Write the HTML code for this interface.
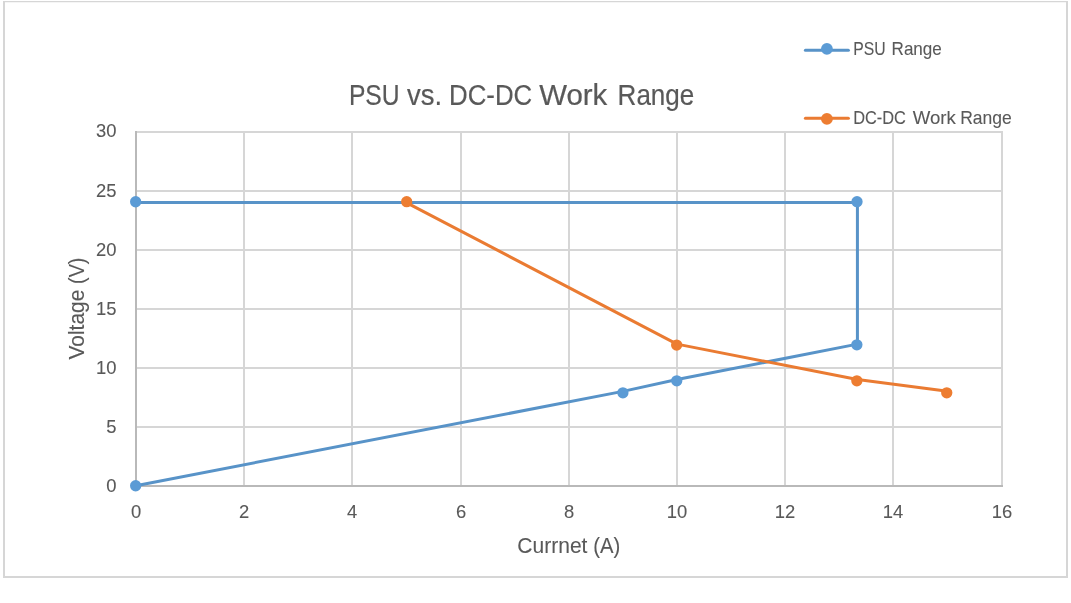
<!DOCTYPE html>
<html>
<head>
<meta charset="utf-8">
<style>
html,body{margin:0;padding:0;background:#fff;}
body{width:1071px;height:603px;overflow:hidden;}
svg{display:block;will-change:transform;}
text{font-family:"Liberation Sans",sans-serif;fill:#595959;stroke:#595959;stroke-width:0.1px;}
.ttl{stroke-width:0.2px;}
</style>
</head>
<body>
<svg width="1071" height="603" viewBox="0 0 1071 603">
<rect x="0" y="0" width="1071" height="603" fill="#fff"/>

<g fill="#d6d6d6">
<rect x="3" y="1" width="2" height="577"/>
<rect x="1066" y="1" width="2" height="577"/>
<rect x="3" y="1" width="1065" height="1.25"/>
<rect x="3" y="576" width="1065" height="2"/>
</g>
<g fill="#d6d6d6">
<rect x="135" y="131" width="868" height="2"/>
<rect x="135" y="190" width="868" height="2"/>
<rect x="135" y="249" width="868" height="2"/>
<rect x="135" y="308" width="868" height="2"/>
<rect x="135" y="367" width="868" height="2"/>
<rect x="135" y="426" width="868" height="2"/>
<rect x="243" y="131" width="2" height="355"/>
<rect x="351" y="131" width="2" height="355"/>
<rect x="460" y="131" width="2" height="355"/>
<rect x="568" y="131" width="2" height="355"/>
<rect x="676" y="131" width="2" height="355"/>
<rect x="784" y="131" width="2" height="355"/>
<rect x="892" y="131" width="2" height="355"/>
<rect x="1001" y="131" width="2" height="355"/>
</g>
<g fill="#b9b9b9">
<rect x="135" y="131" width="2" height="356"/>
<rect x="135" y="485" width="868" height="2"/>
</g>
<text class="ttl" x="348.9" y="105" font-size="28.8" textLength="50.71" lengthAdjust="spacingAndGlyphs">PSU</text>
<text class="ttl" x="406.97" y="105" font-size="28.8" textLength="35.08" lengthAdjust="spacingAndGlyphs">vs.</text>
<text class="ttl" x="449.11" y="105" font-size="28.8" textLength="83.1" lengthAdjust="spacingAndGlyphs">DC-DC</text>
<text class="ttl" x="539.16" y="105" font-size="28.8" textLength="68.16" lengthAdjust="spacingAndGlyphs">Work</text>
<text class="ttl" x="617.59" y="105" font-size="28.8" textLength="76.75" lengthAdjust="spacingAndGlyphs">Range</text>
<text x="517.37" y="553" font-size="21.8" textLength="70.08" lengthAdjust="spacingAndGlyphs">Currnet</text>
<text x="593.25" y="553" font-size="21.8" textLength="27.06" lengthAdjust="spacingAndGlyphs">(A)</text>
<text transform="translate(84 359.45) rotate(-90)" x="0" y="0" font-size="21.8" textLength="69.74" lengthAdjust="spacingAndGlyphs">Voltage</text>
<text transform="translate(84 283.93) rotate(-90)" x="0" y="0" font-size="21.8" textLength="26.4" lengthAdjust="spacingAndGlyphs">(V)</text>
<text x="853.29" y="55" font-size="18.6" textLength="32.37" lengthAdjust="spacingAndGlyphs">PSU</text>
<text x="891.59" y="55" font-size="18.6" textLength="50.24" lengthAdjust="spacingAndGlyphs">Range</text>
<text x="853.24" y="124" font-size="18.6" textLength="52.67" lengthAdjust="spacingAndGlyphs">DC-DC</text>
<text x="912.69" y="124" font-size="18.6" textLength="43.09" lengthAdjust="spacingAndGlyphs">Work</text>
<text x="960.15" y="124" font-size="18.6" textLength="51.6" lengthAdjust="spacingAndGlyphs">Range</text>
<g font-size="18.4" text-anchor="end" class="tick">
<text x="116.5" y="137">30</text>
<text x="116.5" y="197">25</text>
<text x="116.5" y="256">20</text>
<text x="116.5" y="315">15</text>
<text x="116.5" y="374">10</text>
<text x="116.5" y="433">5</text>
<text x="116.5" y="492">0</text>
</g>
<g font-size="18.4" text-anchor="middle" class="tick">
<text x="136" y="518">0</text>
<text x="244" y="518">2</text>
<text x="352" y="518">4</text>
<text x="461" y="518">6</text>
<text x="569" y="518">8</text>
<text x="677" y="518">10</text>
<text x="785" y="518">12</text>
<text x="893" y="518">14</text>
<text x="1002" y="518">16</text>
</g>
<polyline points="135.75,485.75 622.88,391.35 677.00,379.55 857.42,344.15 857.42,202.55 135.75,202.55" fill="none" stroke="#5893c8" stroke-width="3" stroke-linejoin="round"/>
<g fill="#5b9bd5">
<circle cx="135.65" cy="485.75" r="5.65"/>
<circle cx="622.90" cy="392.80" r="5.65"/>
<circle cx="676.75" cy="380.85" r="5.65"/>
<circle cx="856.85" cy="344.85" r="5.65"/>
<circle cx="857.00" cy="201.65" r="5.65"/>
<circle cx="135.65" cy="201.75" r="5.65"/>
</g>
<polyline points="406.38,202.55 677.00,344.15 857.42,379.55 947.62,391.35" fill="none" stroke="#ea7b32" stroke-width="3" stroke-linejoin="round"/>
<g fill="#ed7d31">
<circle cx="406.70" cy="201.70" r="5.65"/>
<circle cx="676.65" cy="345.05" r="5.65"/>
<circle cx="856.85" cy="380.85" r="5.65"/>
<circle cx="946.75" cy="392.85" r="5.65"/>
</g>
<path d="M805.4 50.3H848.4" stroke="#5893c8" stroke-width="3" stroke-linecap="round"/>
<circle cx="826.9" cy="48.9" r="5.9" fill="#5b9bd5"/>
<path d="M805.4 118.3H848.4" stroke="#ea7b32" stroke-width="3" stroke-linecap="round"/>
<circle cx="826.9" cy="118.9" r="5.9" fill="#ed7d31"/>
</svg>
</body>
</html>
